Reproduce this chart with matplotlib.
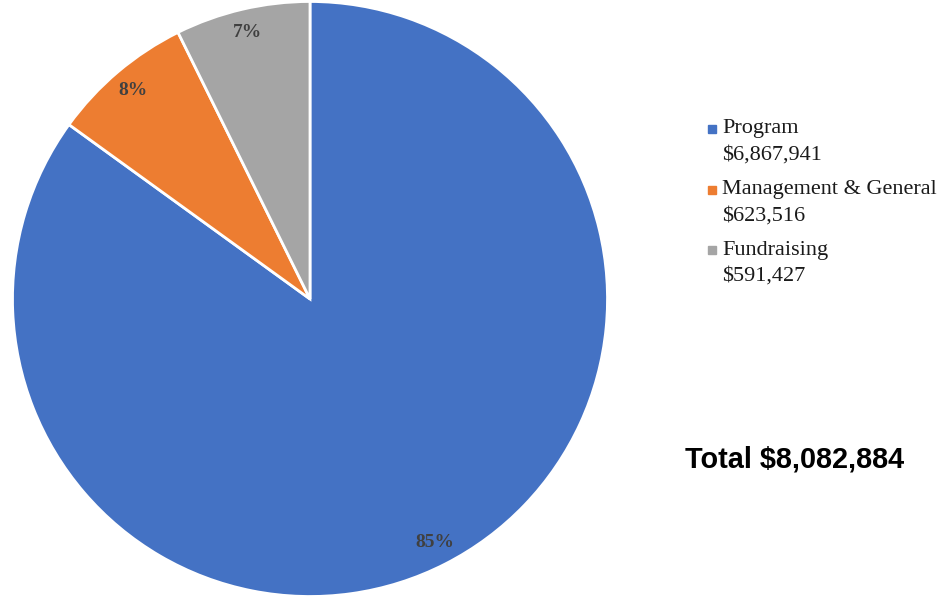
import matplotlib.pyplot as plt
from matplotlib.patches import Rectangle

# Expense data
categories = ["Program", "Management & General", "Fundraising"]
amounts = [6867941, 623516, 591427]
colors = ["#4472C4", "#ED7D31", "#A5A5A5"]
total_label = "Total $8,082,884"

W, H = 945, 601
fig = plt.figure(figsize=(W / 100, H / 100), dpi=100)

# Pie axes: centre ~(310, 302), radius ~298 px
ax = fig.add_axes([11 / W, 3 / H, 598 / W, 598 / H])
wedges, texts, autotexts = ax.pie(
    amounts, colors=colors, startangle=90, counterclock=False,
    autopct="%1.0f%%", pctdistance=0.92,
    wedgeprops=dict(edgecolor="white", linewidth=2),
    textprops=dict(family="Liberation Serif", fontsize=14,
                   fontweight="bold", color="#404040"))
ax.set_xlim(-1.005, 1.005)
ax.set_ylim(-1.005, 1.005)
ax.set_aspect("equal")

# Legend drawn by hand (two-line labels)
leg_rows = [129, 190, 250]
for i, (name, amt) in enumerate(zip(categories, amounts)):
    y = leg_rows[i]
    fig.patches.append(Rectangle((708 / W, 1 - (y + 4) / H), 8 / W, 8 / H,
                                 transform=fig.transFigure, color=colors[i]))
    fig.text(722 / W, 1 - y / H, name, family="Liberation Serif",
             fontsize=16, va="center", ha="left", color="#1a1a1a")
    fig.text(722 / W, 1 - (y + 26) / H, f"${amt:,}", family="Liberation Serif",
             fontsize=16, va="center", ha="left", color="#1a1a1a")

fig.text(685 / W, 1 - 459 / H, total_label, family="Liberation Sans",
         fontsize=20.8, fontweight="bold", va="center", ha="left", color="black")

fig.savefig("out.png", dpi=100)
